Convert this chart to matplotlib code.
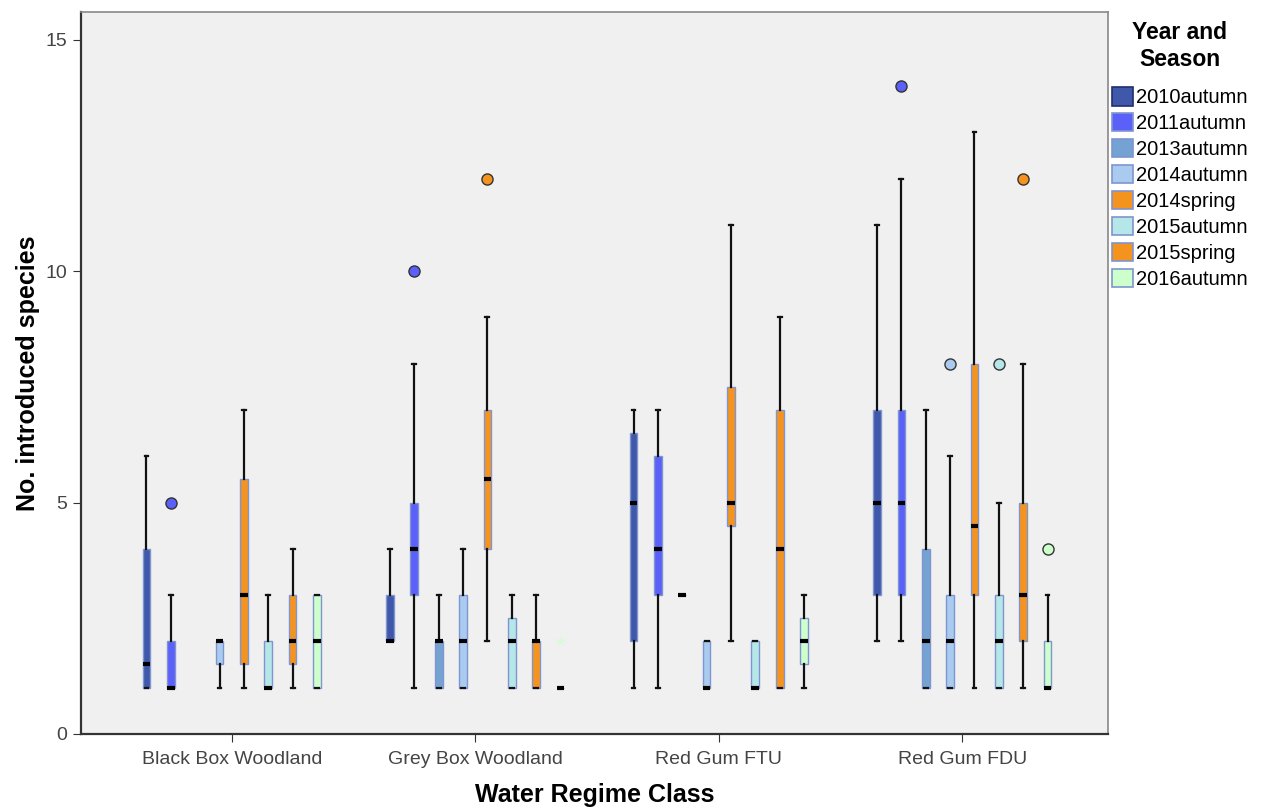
import matplotlib.pyplot as plt
from matplotlib.patches import Patch

plt.rcParams['font.family'] = ['Liberation Sans', 'DejaVu Sans']

groups = ['Black Box Woodland', 'Grey Box Woodland', 'Red Gum FTU', 'Red Gum FDU']
seasons = ['2010autumn', '2011autumn', '2013autumn', '2014autumn',
           '2014spring', '2015autumn', '2015spring', '2016autumn']
colors = ['#3F58AA', '#5A60F8', '#74A3D3', '#A9CBF0',
          '#F5931F', '#B5E6E8', '#F5931F', '#CCFFCC']

# box statistics per group, one entry per season (None = no data)
whislo = [[1, 1, None, 1, 1, 1, 1, 1],
          [2, 1, 1, 1, 2, 1, 1, 1],
          [1, 1, 3, 1, 2, 1, 1, 1],
          [2, 2, 1, 1, 1, 1, 1, 1]]
q1 = [[1, 1, None, 1.5, 1.5, 1, 1.5, 1],
      [2, 3, 1, 1, 4, 1, 1, 1],
      [2, 3, 3, 1, 4.5, 1, 1, 1.5],
      [3, 3, 1, 1, 3, 1, 2, 1]]
med = [[1.5, 1, None, 2, 3, 1, 2, 2],
       [2, 4, 2, 2, 5.5, 2, 2, 1],
       [5, 4, 3, 1, 5, 1, 4, 2],
       [5, 5, 2, 2, 4.5, 2, 3, 1]]
q3 = [[4, 2, None, 2, 5.5, 2, 3, 3],
      [3, 5, 2, 3, 7, 2.5, 2, 1],
      [6.5, 6, 3, 2, 7.5, 2, 7, 2.5],
      [7, 7, 4, 3, 8, 3, 5, 2]]
whishi = [[6, 3, None, 2, 7, 3, 4, 3],
          [4, 8, 3, 4, 9, 3, 3, 1],
          [7, 7, 3, 2, 11, 2, 9, 3],
          [11, 12, 7, 6, 13, 5, 8, 3]]
outliers = [[[], [5], [], [], [], [], [], []],
            [[], [10], [], [], [12], [], [], []],
            [[], [], [], [], [], [], [], []],
            [[], [14], [], [8], [], [8], [12], [4]]]
extremes = [[[], [], [], [], [], [], [], []],
            [[], [], [], [], [], [], [], [2]],
            [[], [], [], [], [], [], [], []],
            [[], [], [], [], [], [], [], []]]

fig = plt.figure(figsize=(12.61, 8.1), dpi=100)
ax = fig.add_axes([0.064, 0.094, 0.815, 0.891])
ax.set_facecolor('#F0F0F0')

step = 0.1
width = 0.032
for g in range(len(groups)):
    for s in range(len(seasons)):
        if med[g][s] is None:
            continue
        pos = g + (s - 3.5) * step
        stats = [dict(whislo=whislo[g][s], q1=q1[g][s], med=med[g][s],
                      q3=q3[g][s], whishi=whishi[g][s], fliers=outliers[g][s])]
        ax.bxp(stats, positions=[pos], widths=width, patch_artist=True,
               capwidths=0.016, manage_ticks=False,
               boxprops=dict(facecolor=colors[s], edgecolor='#8095D0', linewidth=1),
               medianprops=dict(color='black', linewidth=3, solid_capstyle='butt'),
               whiskerprops=dict(color='#111111', linewidth=1.6),
               capprops=dict(color='#111111', linewidth=1.6),
               flierprops=dict(marker='o', markersize=8, markerfacecolor=colors[s],
                               markeredgecolor='#333333', markeredgewidth=1))
        for v in extremes[g][s]:
            ax.plot(pos, v, marker='*', markersize=9, color=colors[s],
                    markeredgecolor='none', alpha=0.6)

ax.set_xlim(-0.62, 3.6)
ax.set_ylim(0, 15.6)
ax.set_xticks(range(len(groups)))
ax.set_xticklabels(groups, fontsize=14.5)
ax.set_yticks([0, 5, 10, 15])
ax.tick_params(axis='both', labelsize=14, labelcolor='#444444', color='#333333',
               length=6, direction='out')
ax.tick_params(axis='x', pad=6)
ax.set_xlabel('Water Regime Class', fontsize=18, fontweight='bold', labelpad=11)
ax.set_ylabel('No. introduced species', fontsize=18, fontweight='bold', labelpad=4)

for side in ['left', 'bottom']:
    ax.spines[side].set_color('#333333')
    ax.spines[side].set_linewidth(1.6)
for side in ['top', 'right']:
    ax.spines[side].set_color('#888888')
    ax.spines[side].set_linewidth(1.2)

handles = [Patch(facecolor=c, edgecolor='#1F2F70' if i == 0 else '#7F94D0', linewidth=1.2)
           for i, c in enumerate(colors)]
leg = ax.legend(handles, seasons, title='Year and\nSeason', loc='upper left',
                bbox_to_anchor=(1.0, 0.993), frameon=False, fontsize=14.5,
                title_fontproperties=dict(weight='bold', size=16.5),
                handlelength=1.0, handleheight=1.0, handletextpad=0.15,
                labelspacing=0.3, borderaxespad=0.0, borderpad=0.2)
leg.get_title().set_multialignment('center')
leg._legend_box.align = 'center'
leg._legend_box.sep = 12

fig.savefig('out.png', dpi=100)
